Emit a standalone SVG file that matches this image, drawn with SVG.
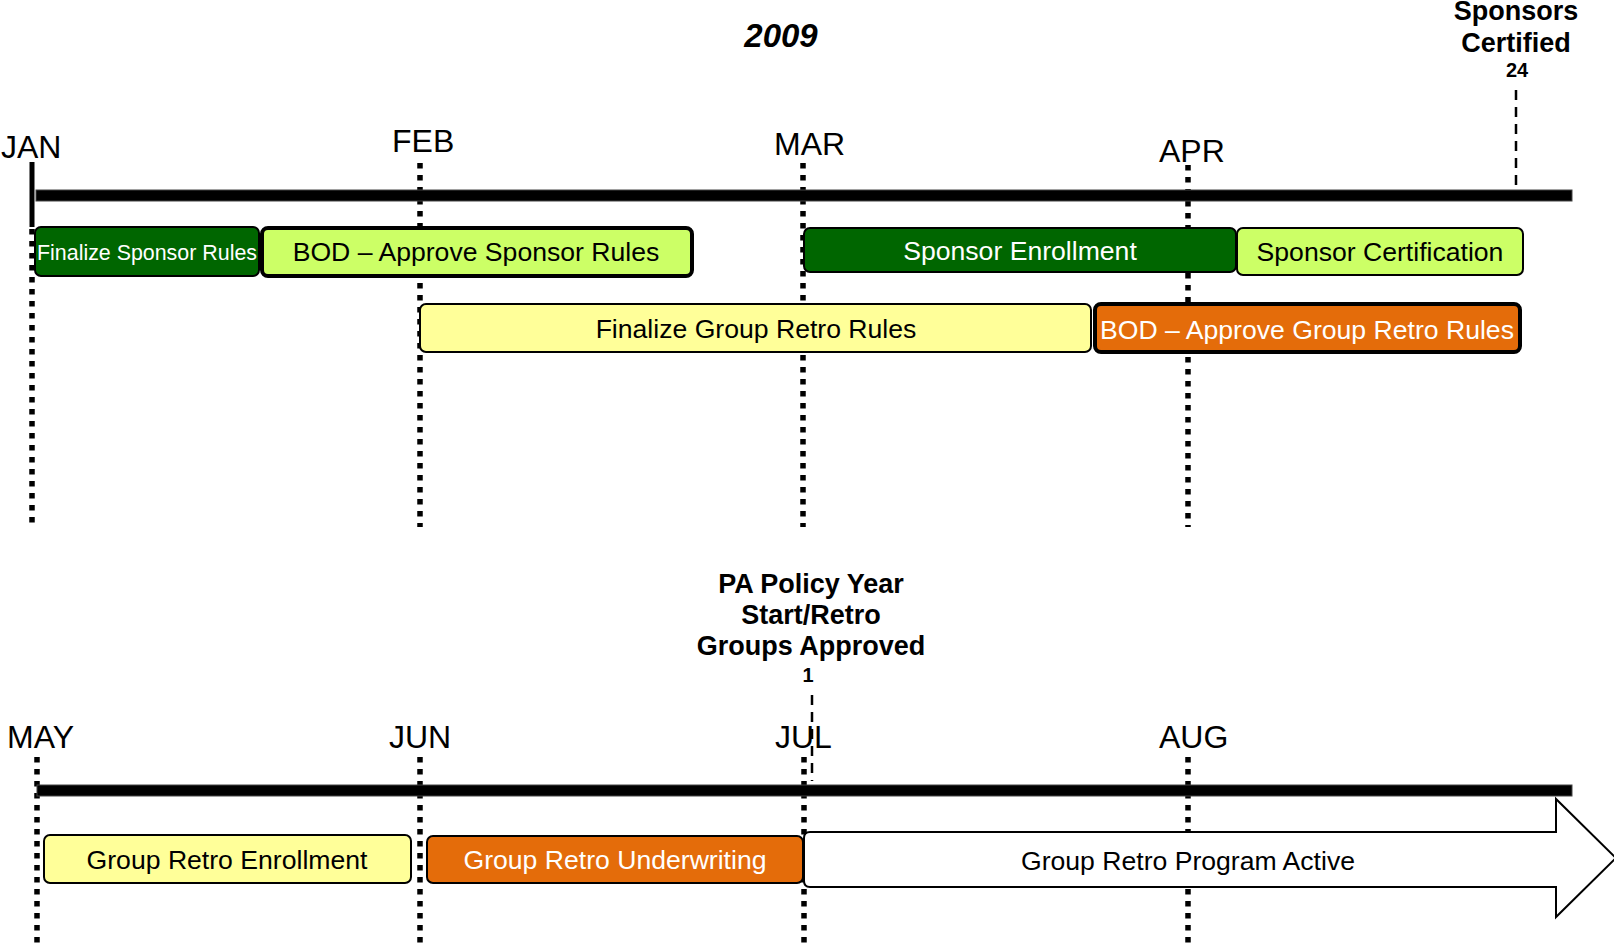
<svg xmlns="http://www.w3.org/2000/svg" width="1614" height="944" viewBox="0 0 1614 944">
<style>
text{font-family:"Liberation Sans",Arial,sans-serif;}
.mon{font-size:32px;fill:#000;}
.lbl{font-size:26.6px;text-anchor:middle;}
.bold{font-weight:bold;text-anchor:middle;fill:#000;}
.dot{stroke:#000;stroke-width:5.5;stroke-dasharray:5.5 6.5;fill:none;}
.dash{stroke:#000;stroke-width:2.5;stroke-dasharray:10 7;fill:none;}
.bar{fill:#000;stroke:#444;stroke-width:1;}
.box{stroke:#000;stroke-width:2;}
.thick{stroke:#000;stroke-width:4;}
.dg{fill:#006600;}
.lg{fill:#CCFF66;}
.yl{fill:#FFFF99;}
.or{fill:#E46C0A;}
.w{fill:#fff;}
.k{fill:#000;}
</style>
<g id="gridlines">
<line x1="32" y1="162" x2="32" y2="227" stroke="#000" stroke-width="5"/>
<line class="dot" x1="32" y1="229" x2="32" y2="527"/>
<line class="dot" x1="420" y1="163" x2="420" y2="527"/>
<line class="dot" x1="803" y1="163" x2="803" y2="527"/>
<line class="dot" x1="1188" y1="165" x2="1188" y2="527"/>
<line class="dot" x1="37" y1="757" x2="37" y2="944"/>
<line class="dot" x1="420" y1="757" x2="420" y2="944"/>
<line class="dot" x1="804" y1="757" x2="804" y2="944"/>
<line class="dot" x1="1188" y1="757" x2="1188" y2="944"/>
<line class="dash" x1="1516" y1="90" x2="1516" y2="186"/>
<line class="dash" x1="812" y1="695" x2="812" y2="781"/>
</g>
<g id="timeline-bars">
<rect class="bar" x="36" y="190" width="1536" height="11"/>
<rect class="bar" x="37" y="785" width="1535" height="11"/>
</g>
<g id="labels">
<text class="mon" x="1" y="158">JAN</text>
<text class="mon" x="392" y="152">FEB</text>
<text class="mon" x="774" y="155">MAR</text>
<text class="mon" x="1159" y="162">APR</text>
<text class="mon" x="7" y="748">MAY</text>
<text class="mon" x="389" y="748">JUN</text>
<text class="mon" x="775" y="748">JUL</text>
<text class="mon" x="1159" y="748">AUG</text>
<text class="bold" x="781" y="47" font-size="33" font-style="italic">2009</text>
<text class="bold" x="1516" y="20" font-size="27">Sponsors</text>
<text class="bold" x="1516" y="52" font-size="27">Certified</text>
<text class="bold" x="1517" y="77" font-size="20">24</text>
<text class="bold" x="811" y="593" font-size="27">PA Policy Year</text>
<text class="bold" x="811" y="624" font-size="27">Start/Retro</text>
<text class="bold" x="811" y="655" font-size="27">Groups Approved</text>
<text class="bold" x="808" y="682" font-size="20">1</text>
</g>
<g id="n1">
<rect class="box dg" x="35" y="227" width="224" height="49" rx="6"/>
<text class="w" x="147" y="260" font-size="21.4" text-anchor="middle">Finalize Sponsor Rules</text>
</g>
<g id="n2">
<rect class="thick lg" x="262" y="228" width="430" height="48" rx="6"/>
<text class="lbl k" x="476" y="261">BOD – Approve Sponsor Rules</text>
</g>
<g id="n3">
<rect class="box dg" x="804" y="228" width="432" height="44" rx="6"/>
<text class="lbl w" x="1020" y="260">Sponsor Enrollment</text>
</g>
<g id="n4">
<rect class="box lg" x="1237" y="228" width="286" height="47" rx="6"/>
<text class="lbl k" x="1380" y="261">Sponsor Certification</text>
</g>
<g id="n5">
<rect class="box yl" x="420" y="304" width="671" height="48" rx="6"/>
<text class="lbl k" x="756" y="338">Finalize Group Retro Rules</text>
</g>
<g id="n6">
<rect class="thick or" x="1095" y="304" width="425" height="48" rx="6"/>
<text class="lbl w" x="1307" y="339">BOD – Approve Group Retro Rules</text>
</g>
<g id="n7">
<rect class="box yl" x="44" y="835" width="367" height="48" rx="6"/>
<text class="lbl k" x="227" y="869">Group Retro Enrollment</text>
</g>
<g id="n8">
<rect class="box or" x="427" y="836" width="376" height="47" rx="6"/>
<text class="lbl w" x="615" y="869">Group Retro Underwriting</text>
</g>
<g id="n9">
<path class="box w" d="M810 832 H1556 V799 L1616 858 L1556 917 V887 H810 Q804 887 804 881 V838 Q804 832 810 832 Z"/>
<text class="lbl k" x="1188" y="870">Group Retro Program Active</text>
</g>
</svg>
